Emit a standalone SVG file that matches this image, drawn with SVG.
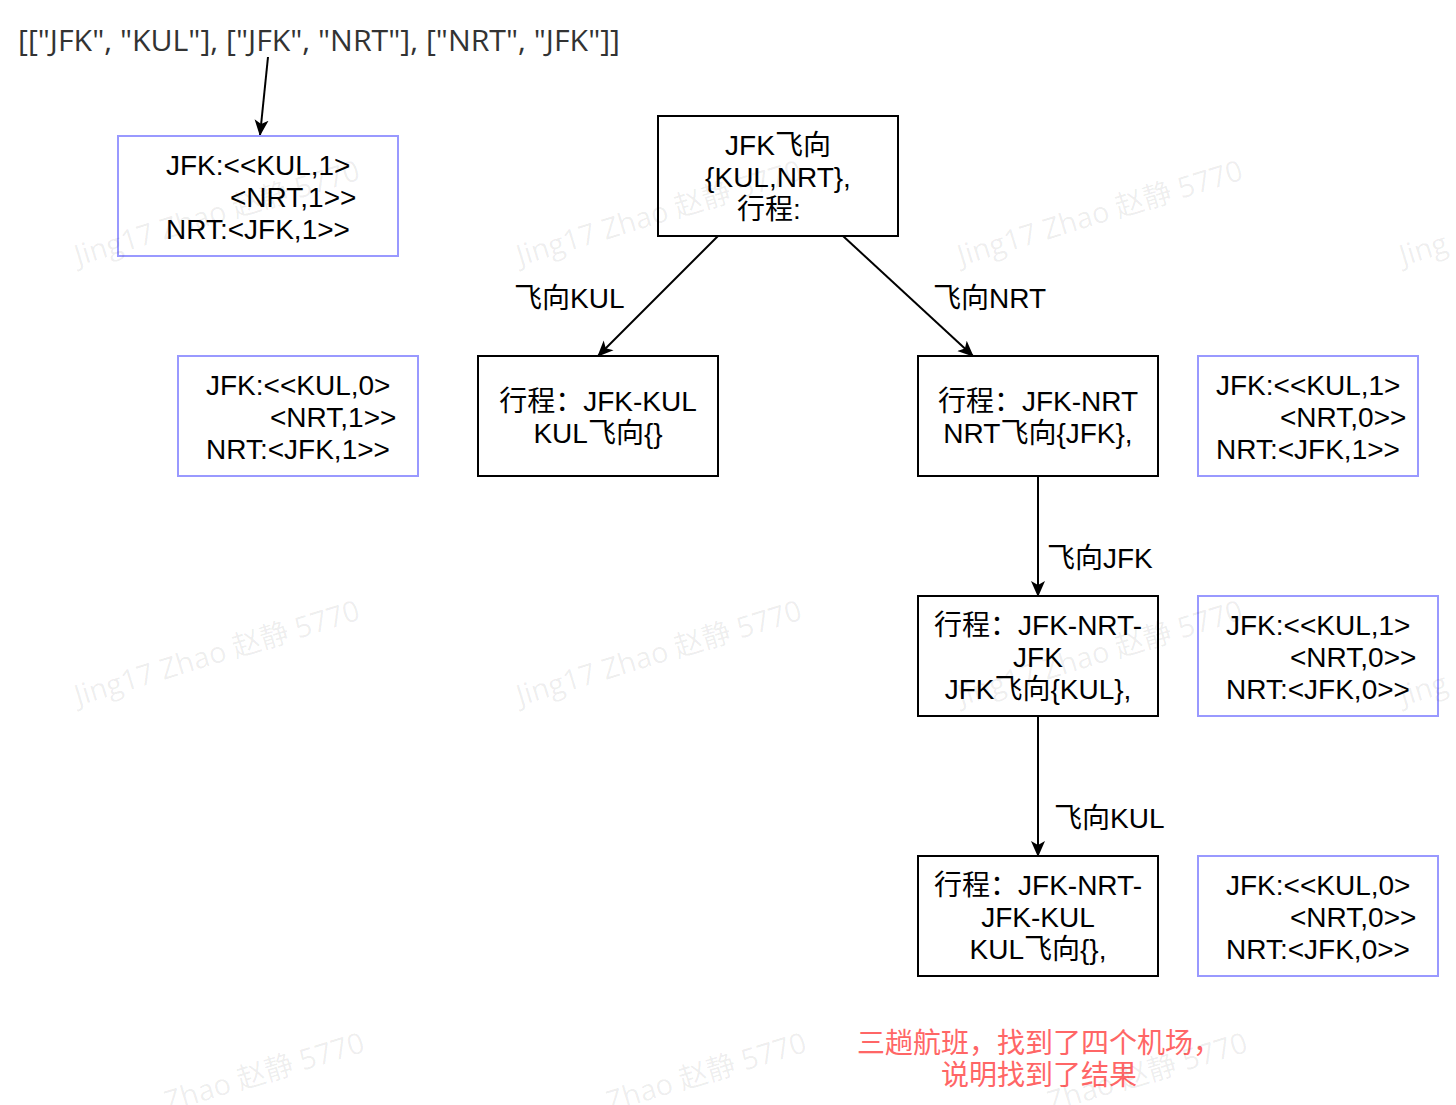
<svg xmlns="http://www.w3.org/2000/svg" width="1456" height="1105" viewBox="0 0 1456 1105">
<defs>
<style>
text{font-family:"Liberation Sans","Noto Sans CJK SC",sans-serif;font-size:28px;fill:#000}
.c{text-anchor:middle}
.box{fill:#fff;stroke:#000;stroke-width:2}
.blue{fill:#fff;stroke:#9999ff;stroke-width:2}
.edge{stroke:#000;stroke-width:2;fill:none;marker-end:url(#arr)}
.red{fill:#ff6666}
.wm{font-family:"Open Sans","Noto Sans CJK SC",sans-serif;font-size:29px;fill:#000;fill-opacity:0.07}
.title{font-family:"Open Sans","Noto Sans CJK SC",sans-serif;fill:#333;font-size:29px}
</style>
<marker id="arr" viewBox="0 0 16 16" refX="15" refY="8" markerWidth="16" markerHeight="16" markerUnits="userSpaceOnUse" orient="auto">
<path d="M0,1 L16,8 L0,15 L4,8 z" fill="#000"/>
</marker>
</defs>
<rect width="1456" height="1105" fill="#fff"/>

<text id="title" class="title" x="18" y="51" textLength="602" lengthAdjust="spacingAndGlyphs">[["JFK", "KUL"], ["JFK", "NRT"], ["NRT", "JFK"]]</text>

<g id="connectors">
<line class="edge" x1="268" y1="57" x2="260" y2="135"/>
<line class="edge" x1="718" y1="236" x2="598" y2="356"/>
<line class="edge" x1="843" y1="236" x2="973" y2="356"/>
<line class="edge" x1="1038" y1="476" x2="1038" y2="596"/>
<line class="edge" x1="1038" y1="716" x2="1038" y2="856"/>
<text x="514" y="308">飞向KUL</text>
<text x="933" y="308">飞向NRT</text>
<text x="1047" y="568">飞向JFK</text>
<text x="1054" y="828">飞向KUL</text>
</g>

<g id="map0">
<rect class="blue" x="118" y="136" width="280" height="120"/>
<text x="166" y="175">JFK:&lt;&lt;KUL,1&gt;</text>
<text x="230" y="207">&lt;NRT,1&gt;&gt;</text>
<text x="166" y="239">NRT:&lt;JFK,1&gt;&gt;</text>
</g>

<g id="root">
<rect class="box" x="658" y="116" width="240" height="120"/>
<text class="c" x="778" y="155">JFK飞向</text>
<text class="c" x="778" y="187">{KUL,NRT},</text>
<text class="c" x="769" y="219">行程:</text>
</g>

<g id="map1">
<rect class="blue" x="178" y="356" width="240" height="120"/>
<text x="206" y="395">JFK:&lt;&lt;KUL,0&gt;</text>
<text x="270" y="427">&lt;NRT,1&gt;&gt;</text>
<text x="206" y="459">NRT:&lt;JFK,1&gt;&gt;</text>
</g>

<g id="kul">
<rect class="box" x="478" y="356" width="240" height="120"/>
<text class="c" x="598" y="411">行程：JFK-KUL</text>
<text class="c" x="598" y="443">KUL飞向{}</text>
</g>

<g id="nrt">
<rect class="box" x="918" y="356" width="240" height="120"/>
<text class="c" x="1038" y="411">行程：JFK-NRT</text>
<text class="c" x="1038" y="443">NRT飞向{JFK},</text>
</g>

<g id="map2">
<rect class="blue" x="1198" y="356" width="220" height="120"/>
<text x="1216" y="395">JFK:&lt;&lt;KUL,1&gt;</text>
<text x="1280" y="427">&lt;NRT,0&gt;&gt;</text>
<text x="1216" y="459">NRT:&lt;JFK,1&gt;&gt;</text>
</g>

<g id="jfk">
<rect class="box" x="918" y="596" width="240" height="120"/>
<text class="c" x="1038" y="635">行程：JFK-NRT-</text>
<text class="c" x="1038" y="667">JFK</text>
<text class="c" x="1038" y="699">JFK飞向{KUL},</text>
</g>

<g id="map3">
<rect class="blue" x="1198" y="596" width="240" height="120"/>
<text x="1226" y="635">JFK:&lt;&lt;KUL,1&gt;</text>
<text x="1290" y="667">&lt;NRT,0&gt;&gt;</text>
<text x="1226" y="699">NRT:&lt;JFK,0&gt;&gt;</text>
</g>

<g id="final">
<rect class="box" x="918" y="856" width="240" height="120"/>
<text class="c" x="1038" y="895">行程：JFK-NRT-</text>
<text class="c" x="1038" y="927">JFK-KUL</text>
<text class="c" x="1038" y="959">KUL飞向{},</text>
</g>

<g id="map4">
<rect class="blue" x="1198" y="856" width="240" height="120"/>
<text x="1226" y="895">JFK:&lt;&lt;KUL,0&gt;</text>
<text x="1290" y="927">&lt;NRT,0&gt;&gt;</text>
<text x="1226" y="959">NRT:&lt;JFK,0&gt;&gt;</text>
</g>

<g id="note">
<text class="c red" x="1039" y="1053">三趟航班，找到了四个机场，</text>
<text class="c red" x="1039" y="1085">说明找到了结果</text>
</g>

<g id="watermark">
<text class="wm" transform="translate(78,266) rotate(-17)">Jing17 Zhao 赵静 5770</text>
<text class="wm" transform="translate(520,266) rotate(-17)">Jing17 Zhao 赵静 5770</text>
<text class="wm" transform="translate(961,266) rotate(-17)">Jing17 Zhao 赵静 5770</text>
<text class="wm" transform="translate(1403,266) rotate(-17)">Jing</text>
<text class="wm" transform="translate(78,706) rotate(-17)">Jing17 Zhao 赵静 5770</text>
<text class="wm" transform="translate(520,706) rotate(-17)">Jing17 Zhao 赵静 5770</text>
<text class="wm" transform="translate(961,706) rotate(-17)">Jing17 Zhao 赵静 5770</text>
<text class="wm" transform="translate(1403,706) rotate(-17)">Jing</text>
<text class="wm" transform="translate(168,1112) rotate(-17)">Zhao 赵静 5770</text>
<text class="wm" transform="translate(610,1112) rotate(-17)">Zhao 赵静 5770</text>
<text class="wm" transform="translate(1051,1112) rotate(-17)">Zhao 赵静 5770</text>
</g>
</svg>
